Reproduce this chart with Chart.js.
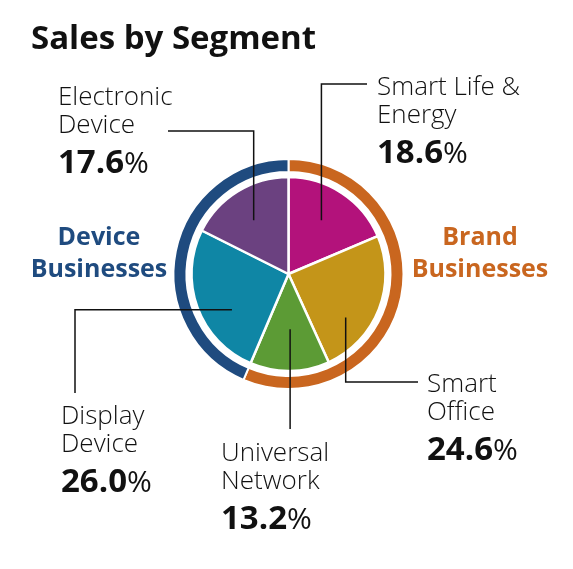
<!DOCTYPE html>
<html>
<head>
<meta charset="utf-8">
<script src="https://cdn.jsdelivr.net/npm/chart.js@4"></script>
<style>
  html, body { margin: 0; padding: 0; background: #fff; }
  #wrap { position: relative; width: 573px; height: 569px; overflow: hidden; font-family: 'Open Sans', 'Noto Sans', sans-serif; color: #111; }
  #chart { position: absolute; left: 0; top: 0; }
  .title { position: absolute; left: 31px; top: 17.2px; font-size: 33px; line-height: 40px; font-weight: 700; white-space: nowrap; }
  .seg { position: absolute; white-space: nowrap; }
  .seg .name { font-size: 26px; line-height: 28.5px; font-weight: 300; }
  .seg .pct { font-size: 33px; line-height: 45px; font-weight: 700; }
  .seg .pct span { font-weight: 400; font-size: 30px; }
  .group { position: absolute; width: 200px; text-align: center; font-size: 25px; line-height: 32px; font-weight: 700; }
</style>
</head>
<body>
<div id="wrap">
  <canvas id="chart" width="573" height="569"></canvas>
  <div class="title">Sales by Segment</div>
  <div id="labels"></div>
</div>
<script>
// ── Data ─────────────────────────────────────────────
const segments     = ['Smart Life &\nEnergy', 'Smart\nOffice', 'Universal\nNetwork', 'Display\nDevice', 'Electronic\nDevice'];
const segmentShare = [18.6, 24.6, 13.2, 26.0, 17.6];
const segmentColor = ['#B3127B', '#C49519', '#5C9B35', '#0F86A5', '#6B4180'];
const groupNames   = ['Brand\nBusinesses', 'Device\nBusinesses'];
const groupColor   = ['#C9661F', '#1F4B7F'];
const segmentGroup = [0, 0, 0, 1, 1];

// group totals built from the segment shares
const groupShare = groupNames.map((_, g) =>
  segmentShare.reduce((s, v, i) => s + (segmentGroup[i] === g ? v : 0), 0));

// ── Label layout (leader line start inside slice, elbow route, text box) ──
const layout = [
  { frac: 0.47, r: 0.65, route: 'v', tx: 367, ty: 84,  left: 377, top: 70.6 },
  { frac: 0.68, r: 0.74, route: 'v', tx: 418, ty: 382, left: 427, top: 367.6 },
  { frac: 0.48, r: 0.57, route: 'v', tx: null, ty: 429, left: 221, top: 436.6 },
  { frac: 0.37, r: 0.69, route: 'h', tx: 75,  ty: 393, left: 61,  top: 399.6 },
  { frac: 0.48, r: 0.66, route: 'v', tx: 168, ty: 131, left: 58,  top: 80.6 },
];
const groupLayout = [
  { cx: 480, top: 219.3 },
  { cx: 99,  top: 219.3 },
];

// Leader lines drawn from the pie arcs
const leaderLines = {
  id: 'leaderLines',
  afterDatasetsDraw(chart) {
    const ctx = chart.ctx;
    const meta = chart.getDatasetMeta(2);
    ctx.save();
    ctx.strokeStyle = '#111';
    ctx.lineWidth = 1.5;
    meta.data.forEach((arc, i) => {
      const L = layout[i];
      const p = arc.getProps(['x', 'y', 'startAngle', 'endAngle', 'outerRadius'], true);
      const a = p.startAngle + (p.endAngle - p.startAngle) * L.frac;
      const sx = p.x + Math.cos(a) * p.outerRadius * L.r;
      const sy = p.y + Math.sin(a) * p.outerRadius * L.r;
      const tx = L.tx == null ? sx : L.tx;
      ctx.beginPath();
      ctx.moveTo(sx, sy);
      if (L.route === 'v') ctx.lineTo(sx, L.ty);
      else ctx.lineTo(tx, sy);
      ctx.lineTo(tx, L.ty);
      ctx.stroke();
    });
    ctx.restore();
  },
};

new Chart(document.getElementById('chart'), {
  type: 'doughnut',
  data: {
    labels: segments,
    datasets: [
      { // outer group ring
        data: groupShare,
        backgroundColor: groupColor,
        borderColor: '#FFFFFF',
        borderWidth: 2,
        weight: 13,
      },
      { // white spacer ring
        data: [100],
        backgroundColor: 'rgba(0,0,0,0)',
        borderWidth: 0,
        weight: 5,
      },
      { // pie
        data: segmentShare,
        backgroundColor: segmentColor,
        borderColor: '#FFFFFF',
        borderWidth: 2.5,
        weight: 97,
      },
    ],
  },
  options: {
    responsive: false,
    animation: false,
    radius: 115,
    cutout: 0,
    hoverOffset: 0,
    layout: { padding: { left: 4, right: 0, top: 0, bottom: 21 } },
    events: [],
    plugins: { legend: { display: false }, tooltip: { enabled: false } },
  },
  plugins: [leaderLines],
});

// ── Text labels ──────────────────────────────────────
const holder = document.getElementById('labels');
segments.forEach((name, i) => {
  const d = document.createElement('div');
  d.className = 'seg';
  d.style.left = layout[i].left + 'px';
  d.style.top = layout[i].top + 'px';
  name.split('\n').forEach(t => {
    const n = document.createElement('div');
    n.className = 'name';
    n.textContent = t;
    d.appendChild(n);
  });
  const p = document.createElement('div');
  p.className = 'pct';
  p.innerHTML = segmentShare[i].toFixed(1) + '<span>%</span>';
  d.appendChild(p);
  holder.appendChild(d);
});
groupNames.forEach((name, g) => {
  const d = document.createElement('div');
  d.className = 'group';
  d.style.left = (groupLayout[g].cx - 100) + 'px';
  d.style.top = groupLayout[g].top + 'px';
  d.style.color = groupColor[g];
  d.innerHTML = name.split('\n').join('<br>');
  holder.appendChild(d);
});
</script>
</body>
</html>
